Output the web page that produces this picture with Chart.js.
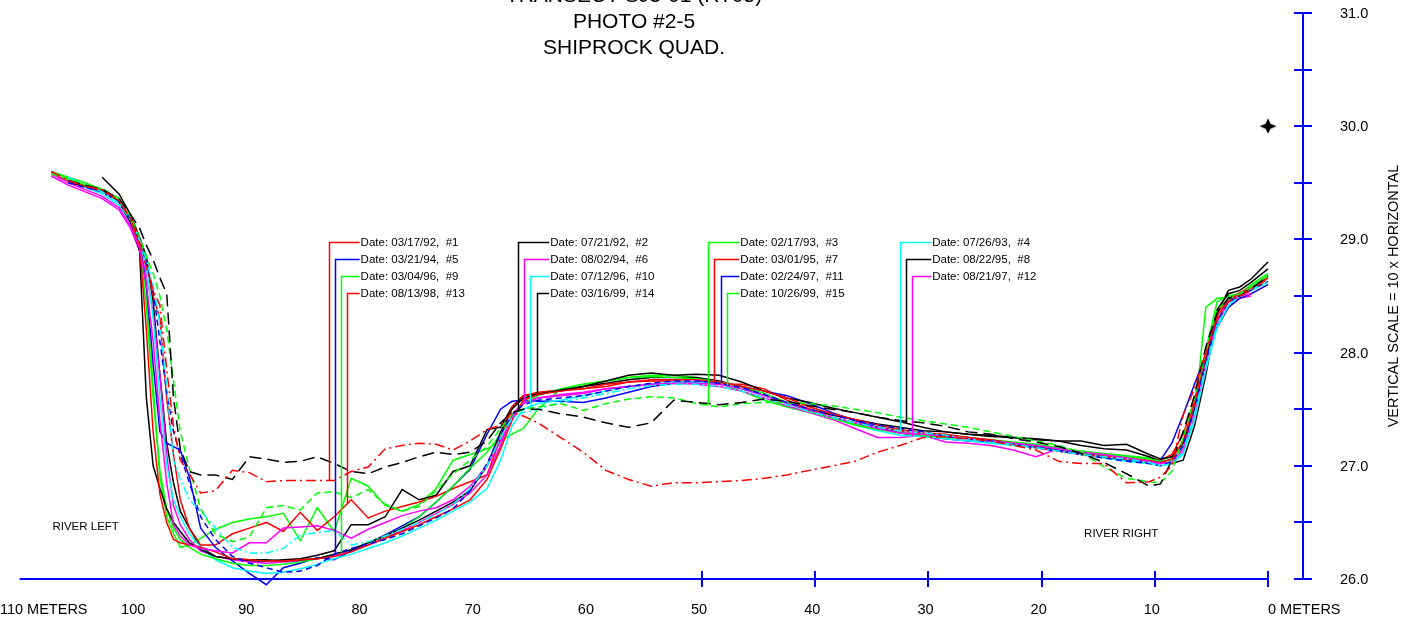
<!DOCTYPE html>
<html>
<head>
<meta charset="utf-8">
<title>Transect SJ3-01 - Photo #2-5</title>
<script src="https://cdn.jsdelivr.net/npm/chart.js@4.4.1/dist/chart.umd.min.js"></script>
<style>
    html, body { margin: 0; padding: 0; background: #ffffff; }
    #wrap { width: 1405px; height: 625px; }
</style>
</head>
<body>
<div id="wrap"><canvas id="transectChart" width="1405" height="625"></canvas></div>
<script>
// Survey stations, meters measured from the right bank
const stations = [
    107.5, 106, 104.5, 103, 101.5, 100.5, 99.7, 99.1, 98.5, 97.9,
    97.3, 96.7, 96.1, 95.3, 94.3, 93, 91.5, 90, 88.5, 87,
    85.5, 84, 82.5, 81, 79.5, 78, 76.5, 75, 73.5, 72,
    70.5, 69, 67.8, 66.8, 65.8, 64.5, 62.5, 60.5, 58.5, 56.5,
    54.5, 52.5, 50.5, 48.5, 46.5, 44.5, 42.5, 40.5, 38.5, 36.5,
    34.5, 32.5, 30.5, 28.5, 26.5, 24.5, 22.5, 20.5, 18.5, 16.5,
    14.5, 12.5, 10.5, 9.5, 8.5, 7.5, 6.5, 5.5, 4.5, 3.5,
    2.5, 1.5, 0
];

// Bed elevations (m) for each survey, one value per station
const elev01 = [
    29.60, 29.52, 29.47, 29.44, 29.34, 29.18, 28.98, 28.75, 28.55, 28.42,
    27.85, 27.35, 27.05, 26.93, 26.76, 26.78, 26.96, 26.94, 26.86, 26.87,
    26.87, 26.87, 26.87, 26.95, 26.99, 27.15, 27.18, 27.20, 27.19, 27.14,
    27.22, 27.32, 27.36, 27.47, 27.44, 27.38, 27.25, 27.12, 26.96, 26.88,
    26.82, 26.85, 26.85, 26.86, 26.87, 26.89, 26.92, 26.96, 27.00, 27.04,
    27.12, 27.18, 27.25, 27.26, 27.24, 27.22, 27.18, 27.14, 27.04, 27.02,
    27.02, 26.85, 26.86, 26.90, 27.00, 27.45, 27.68, 28.00, 28.30, 28.45,
    28.50, 28.55, 28.65
];
const elev02 = [
    null, 29.52, 29.48, 29.44, 29.36, 29.22, 29.10, 28.95, 28.82, 28.66,
    28.52, 27.60, 27.15, 26.95, 26.92, 26.92, 26.88, 27.08, 27.06, 27.03,
    27.04, 27.08, 27.02, 26.95, 26.93, 26.99, 27.03, 27.08, 27.12, 27.10,
    27.12, 27.22, 27.38, 27.47, 27.50, 27.50, 27.46, 27.43, 27.38, 27.34,
    27.38, 27.58, 27.56, 27.54, 27.56, 27.59, 27.57, 27.53, 27.50, 27.47,
    27.43, 27.40, 27.38, 27.35, 27.30, 27.28, 27.24, 27.21, 27.17, 27.11,
    27.03, 26.93, 26.82, 26.84, 27.05, 27.30, 27.62, 28.05, 28.35, 28.48,
    28.50, 28.56, 28.68
];
const elev03 = [
    29.58, 29.53, 29.48, 29.45, 29.36, 29.20, 29.02, 28.85, 28.70, 28.50,
    28.20, 27.75, 27.30, 26.98, 26.62, 26.40, 26.33, 26.37, 26.63, 26.65,
    26.61, 26.76, 26.77, 26.72, 26.79, 26.66, 26.60, 26.64, 26.78, 26.93,
    27.05, 27.17, 27.33, 27.45, 27.50, 27.52, 27.55, 27.49, 27.55, 27.59,
    27.61, 27.60, 27.55, 27.52, 27.55, 27.56, 27.56, 27.55, 27.53, 27.50,
    27.47, 27.43, 27.40, 27.37, 27.34, 27.30, 27.26, 27.22, 27.18, 27.12,
    26.99, 26.89, 26.86, 26.85, 26.95, 27.25, 27.60, 28.00, 28.38, 28.47,
    28.52, 28.58, 28.68
];
const elev04 = [
    null, 29.55, 29.48, 29.42, 29.32, 29.17, 29.00, 28.82, 28.60, 28.25,
    27.70, 27.05, 26.88, 26.70, 26.60, 26.45, 26.28, 26.23, 26.23, 26.27,
    26.39, 26.41, 26.43, 26.30, 26.33, 26.38, 26.44, 26.50, 26.57, 26.66,
    26.80, 27.00, 27.25, 27.42, 27.47, 27.50, 27.56, 27.60, 27.64, 27.68,
    27.71, 27.72, 27.72, 27.70, 27.66, 27.60, 27.54, 27.48, 27.43, 27.38,
    27.34, 27.31, 27.29, 27.27, 27.24, 27.21, 27.19, 27.16, 27.13, 27.10,
    27.08, 27.06, 27.03, 27.00, 27.02, 27.12, 27.45, 27.88, 28.25, 28.42,
    28.50, 28.55, 28.62
];
const elev05 = [
    null, 29.50, 29.46, 29.42, 29.33, 29.18, 29.00, 28.80, 28.55, 28.10,
    27.65, 27.30, 27.10, 26.85, 26.55, 26.35, 26.20, 26.14, 26.10, 26.06,
    26.07, 26.12, 26.22, 26.27, 26.31, 26.35, 26.40, 26.47, 26.54, 26.62,
    26.78, 27.02, 27.28, 27.45, 27.54, 27.58, 27.60, 27.62, 27.66, 27.70,
    27.73, 27.75, 27.75, 27.73, 27.69, 27.63, 27.56, 27.50, 27.45, 27.40,
    27.36, 27.33, 27.30, 27.26, 27.24, 27.22, 27.19, 27.16, 27.13, 27.10,
    27.07, 27.04, 27.02, 27.00, 27.04, 27.18, 27.50, 27.92, 28.28, 28.45,
    28.50, 28.55, 28.63
];
const elev06 = [
    29.58, 29.50, 29.44, 29.38, 29.28, 29.12, 28.92, 28.60, 28.10, 27.40,
    26.85, 26.48, 26.38, 26.30, 26.27, 26.25, 26.23, 26.32, 26.32, 26.45,
    26.46, 26.47, 26.43, 26.36, 26.44, 26.50, 26.56, 26.60, 26.63, 26.70,
    26.82, 27.00, 27.22, 27.42, 27.55, 27.60, 27.62, 27.64, 27.68, 27.70,
    27.72, 27.73, 27.73, 27.72, 27.68, 27.62, 27.55, 27.49, 27.43, 27.38,
    27.33, 27.29, 27.28, 27.26, 27.24, 27.22, 27.20, 27.18, 27.15, 27.12,
    27.10, 27.07, 27.04, 27.02, 27.03, 27.15, 27.48, 27.90, 28.28, 28.45,
    28.50, 28.52, null
];
const elev07 = [
    29.58, 29.52, 29.47, 29.43, 29.34, 29.18, 28.95, 28.20, 27.30, 26.75,
    26.50, 26.35, 26.32, 26.30, 26.28, 26.24, 26.18, 26.17, 26.16, 26.16,
    26.17, 26.18, 26.20, 26.24, 26.30, 26.36, 26.42, 26.48, 26.55, 26.62,
    26.70, 26.88, 27.15, 27.40, 27.58, 27.63, 27.66, 27.68, 27.72, 27.74,
    27.76, 27.76, 27.76, 27.74, 27.70, 27.66, 27.60, 27.52, 27.46, 27.41,
    27.36, 27.32, 27.29, 27.28, 27.25, 27.22, 27.19, 27.16, 27.13, 27.10,
    27.08, 27.06, 27.04, 27.03, 27.06, 27.22, 27.55, 27.98, 28.32, 28.46,
    28.52, 28.57, 28.66
];
const elev08 = [
    null, 29.50, 29.47, 29.43, 29.33, 29.15, 28.90, 27.60, 27.00, 26.80,
    26.62, 26.50, 26.42, 26.32, 26.26, 26.20, 26.18, 26.17, 26.17, 26.16,
    26.17, 26.18, 26.22, 26.26, 26.32, 26.38, 26.45, 26.52, 26.60, 26.68,
    26.78, 27.00, 27.30, 27.50, 27.60, 27.63, 27.67, 27.70, 27.75, 27.80,
    27.82, 27.80, 27.81, 27.80, 27.74, 27.66, 27.60, 27.56, 27.51, 27.47,
    27.43, 27.39, 27.34, 27.30, 27.28, 27.26, 27.25, 27.24, 27.22, 27.22,
    27.18, 27.19, 27.10, 27.06, 27.08, 27.20, 27.50, 27.92, 28.38, 28.52,
    28.55, 28.62, 28.74
];
const elev09 = [
    29.60, 29.54, 29.48, 29.44, 29.35, 29.18, 28.95, 28.40, 27.60, 26.95,
    26.62, 26.45, 26.35, 26.28, 26.22, 26.18, 26.14, 26.12, 26.12, 26.13,
    26.15, 26.18, 26.22, 26.26, 26.32, 26.38, 26.45, 26.55, 26.68, 26.82,
    26.98, 27.12, 27.28, 27.42, 27.55, 27.62, 27.68, 27.72, 27.75, 27.78,
    27.79, 27.78, 27.77, 27.74, 27.70, 27.64, 27.56, 27.48, 27.42, 27.36,
    27.32, 27.29, 27.27, 27.25, 27.24, 27.22, 27.20, 27.18, 27.15, 27.12,
    27.10, 27.08, 27.06, 27.04, 27.05, 27.15, 27.48, 28.02, 28.45, 28.50,
    28.52, 28.58, 28.68
];
const elev10 = [
    null, 29.52, 29.46, 29.40, 29.30, 29.15, 28.98, 28.75, 28.30, 27.60,
    27.00, 26.70, 26.55, 26.40, 26.28, 26.17, 26.10, 26.07, 26.05, 26.06,
    26.09, 26.13, 26.18, 26.22, 26.27, 26.32, 26.38, 26.45, 26.52, 26.60,
    26.68, 26.80, 27.05, 27.35, 27.50, 27.55, 27.58, 27.62, 27.66, 27.70,
    27.72, 27.74, 27.74, 27.72, 27.68, 27.62, 27.55, 27.48, 27.42, 27.36,
    27.31, 27.27, 27.26, 27.24, 27.22, 27.20, 27.18, 27.16, 27.13, 27.10,
    27.07, 27.04, 27.02, 27.00, 27.02, 27.10, 27.40, 27.85, 28.22, 28.42,
    28.50, 28.56, 28.62
];
const elev11 = [
    null, 29.52, 29.46, 29.42, 29.33, 29.18, 28.98, 28.60, 27.90, 27.30,
    27.20, 27.17, 27.14, 26.90, 26.45, 26.28, 26.16, 26.05, 25.95, 26.10,
    26.14, 26.19, 26.17, 26.25, 26.32, 26.39, 26.47, 26.55, 26.68, 26.82,
    26.97, 27.28, 27.50, 27.57, 27.58, 27.57, 27.57, 27.56, 27.60, 27.65,
    27.70, 27.73, 27.74, 27.74, 27.70, 27.66, 27.62, 27.55, 27.47, 27.40,
    27.34, 27.29, 27.26, 27.24, 27.22, 27.21, 27.19, 27.17, 27.14, 27.11,
    27.08, 27.05, 27.03, 27.05, 27.20, 27.45, 27.72, 27.98, 28.22, 28.40,
    28.48, 28.52, 28.60
];
const elev12 = [
    29.56, 29.48, 29.42, 29.36, 29.26, 29.10, 28.90, 28.70, 28.35, 27.80,
    27.10, 26.65, 26.48, 26.35, 26.25, 26.20, 26.17, 26.15, 26.14, 26.15,
    26.16, 26.18, 26.21, 26.25, 26.30, 26.36, 26.43, 26.50, 26.58, 26.66,
    26.76, 26.92, 27.18, 27.45, 27.56, 27.60, 27.63, 27.65, 27.68, 27.70,
    27.72, 27.73, 27.72, 27.70, 27.66, 27.60, 27.53, 27.47, 27.41, 27.33,
    27.25, 27.25, 27.27, 27.21, 27.20, 27.18, 27.14, 27.08, 27.15, 27.10,
    27.08, 27.06, 27.03, 27.02, 27.03, 27.12, 27.42, 27.85, 28.25, 28.45,
    28.48, 28.50, null
];
const elev13 = [
    null, 29.52, 29.47, 29.42, 29.34, 29.20, 29.00, 28.80, 28.50, 28.30,
    27.60, 27.10, 26.70, 26.45, 26.30, 26.30, 26.40, 26.45, 26.50, 26.42,
    26.59, 26.43, 26.55, 26.70, 26.54, 26.60, 26.64, 26.68, 26.73, 26.80,
    26.86, 26.92, 27.25, 27.52, 27.62, 27.65, 27.67, 27.68, 27.70, 27.74,
    27.75, 27.75, 27.74, 27.72, 27.72, 27.68, 27.58, 27.50, 27.43, 27.38,
    27.34, 27.31, 27.28, 27.27, 27.25, 27.23, 27.20, 27.17, 27.14, 27.11,
    27.09, 27.07, 27.05, 27.05, 27.10, 27.28, 27.58, 28.00, 28.35, 28.48,
    28.53, 28.58, 28.66
];
const elev14 = [
    null, null, null, 29.55, 29.40, 29.22, 29.02, 28.85, 28.45, 27.80,
    27.20, 26.85, 26.60, 26.45, 26.28, 26.20, 26.18, 26.16, 26.16, 26.17,
    26.18, 26.21, 26.25, 26.48, 26.48, 26.55, 26.79, 26.70, 26.74, 26.95,
    27.00, 27.32, 27.34, 27.52, 27.62, 27.64, 27.66, 27.70, 27.73, 27.76,
    27.78, 27.78, 27.78, 27.75, 27.70, 27.62, 27.56, 27.50, 27.45, 27.41,
    27.37, 27.34, 27.31, 27.30, 27.28, 27.27, 27.25, 27.23, 27.22, 27.18,
    27.15, 27.14, 27.08, 27.04, 27.02, 27.05, 27.35, 27.80, 28.35, 28.55,
    28.58, 28.65, 28.80
];
const elev15 = [
    29.60, 29.55, 29.50, 29.44, 29.35, 29.18, 28.96, 28.55, 27.70, 26.90,
    26.55, 26.40, 26.28, 26.30, 26.36, 26.44, 26.50, 26.53, 26.55, 26.58,
    26.34, 26.63, 26.42, 26.89, 26.82, 26.65, 26.60, 26.66, 26.80, 27.05,
    27.10, 27.15, 27.22, 27.28, 27.33, 27.50, 27.68, 27.72, 27.75, 27.78,
    27.80, 27.80, 27.78, 27.73, 27.66, 27.58, 27.52, 27.47, 27.42, 27.37,
    27.33, 27.29, 27.27, 27.26, 27.25, 27.23, 27.21, 27.19, 27.16, 27.13,
    27.11, 27.09, 27.07, 27.05, 27.08, 27.18, 27.42, 28.40, 28.48, 28.49,
    28.52, 28.60, 28.70
];

const surveyDates = [
    '03/17/92', '07/21/92', '02/17/93', '07/26/93', '03/21/94',
    '08/02/94', '03/01/95', '08/22/95', '03/04/96', '07/12/96',
    '02/24/97', '08/21/97', '08/13/98', '03/16/99', '10/26/99'
];
const surveyElevations = [
    elev01, elev02, elev03, elev04, elev05, elev06, elev07, elev08,
    elev09, elev10, elev11, elev12, elev13, elev14, elev15
];

// Reference mark on the right bank
const benchmark = [{ x: 0, y: 30.0 }];

// Axis ticks and labels
const distanceLabels = [110, 100, 90, 80, 70, 60, 50, 40, 30, 20, 10, 0];
const distanceTicks = [50, 40, 30, 20, 10, 0];
const elevationTicks = [26, 26.5, 27, 27.5, 28, 28.5, 29, 29.5, 30, 30.5, 31];
const elevationLabels = [26, 27, 28, 29, 30, 31];

// Line look for each survey
const surveyColors = [
    '#ff0000', '#000000', '#00ff00', '#00ffff', '#0000ff',
    '#ff00ff', '#ff0000', '#000000', '#00ff00', '#00ffff',
    '#0000ff', '#ff00ff', '#ff0000', '#000000', '#00ff00'
];
const surveyDashes = [
    [10, 4, 2, 4], [12, 6], [7, 4], [8, 3, 2, 3], [6, 4],
    [], [], [], [], [], [], [], [], [], []
];

// Date labels: leaders hang from each label down to its own profile
const legendGroups = [
    { at: 83.0, surveys: [1, 5, 9, 13] },
    { at: 66.25, surveys: [2, 6, 10, 14] },
    { at: 49.45, surveys: [3, 7, 11, 15] },
    { at: 32.5, surveys: [4, 8, 12] }
];
const labelRows = [28.98, 28.83, 28.68, 28.53];
const leaderStep = 0.54;
const labelOffset = 2.83;

const titleLines = ['TRANSECT SJ3-01 (RT05)', 'PHOTO #2-5', 'SHIPROCK QUAD.'];
const FONT = 'Arial, "Liberation Sans", sans-serif';
const AXIS_BLUE = '#0000ff';

// elevation of survey n at distance d, interpolated between stations
function elevationAt(n, d) {
    const values = surveyElevations[n - 1];
    for (let i = 0; i < stations.length - 1; i++) {
        const a = stations[i], b = stations[i + 1];
        if (d <= a && d >= b && values[i] != null && values[i + 1] != null) {
            const t = (a - d) / (a - b);
            return values[i] + t * (values[i + 1] - values[i]);
        }
    }
    return null;
}

function benchmarkGlyph() {
    const c = document.createElement('canvas');
    c.width = 20;
    c.height = 20;
    const g = c.getContext('2d');
    g.translate(10, 10);
    g.beginPath();
    g.moveTo(0, -8);
    g.lineTo(2.5, -2.5);
    g.lineTo(8.5, 0);
    g.lineTo(2.5, 2.5);
    g.lineTo(0, 7.5);
    g.lineTo(-2.5, 2.5);
    g.lineTo(-8.5, 0);
    g.lineTo(-2.5, -2.5);
    g.closePath();
    g.fillStyle = '#000000';
    g.fill();
    return c;
}

// Axes, titles and river labels
const transectFrame = {
    id: 'transectFrame',
    beforeDatasetsDraw(chart) {
        const { ctx, chartArea } = chart;
        const xs = chart.scales.x;
        const ys = chart.scales.y;
        const y0 = ys.getPixelForValue(26);
        const axisX = chartArea.right;
        ctx.save();
        ctx.strokeStyle = AXIS_BLUE;
        ctx.lineWidth = 2;

        // distance axis along the 26.0 datum
        ctx.beginPath();
        ctx.moveTo(xs.getPixelForValue(110.3), y0);
        ctx.lineTo(xs.getPixelForValue(0), y0);
        ctx.stroke();
        distanceTicks.forEach(d => {
            const px = Math.round(xs.getPixelForValue(d));
            ctx.beginPath();
            ctx.moveTo(px, y0 - 8);
            ctx.lineTo(px, y0 + 8);
            ctx.stroke();
        });

        // elevation axis on the right
        ctx.beginPath();
        ctx.moveTo(axisX, ys.getPixelForValue(31));
        ctx.lineTo(axisX, y0);
        ctx.stroke();
        elevationTicks.forEach(v => {
            const py = Math.round(ys.getPixelForValue(v));
            ctx.beginPath();
            ctx.moveTo(axisX - 9, py);
            ctx.lineTo(axisX + 9, py);
            ctx.stroke();
        });

        ctx.fillStyle = '#000000';
        ctx.textBaseline = 'middle';
        ctx.font = `14.5px ${FONT}`;
        ctx.textAlign = 'left';
        elevationLabels.forEach(v => {
            ctx.fillText(v.toFixed(1), axisX + 37, ys.getPixelForValue(v) + 1);
        });

        const labelY = y0 + 31;
        distanceLabels.forEach((d, i) => {
            const px = xs.getPixelForValue(d);
            if (i === 0) {
                ctx.textAlign = 'left';
                ctx.fillText(`${d} METERS`, px - 23, labelY);
            } else if (i === distanceLabels.length - 1) {
                ctx.textAlign = 'left';
                ctx.fillText(`${d} METERS`, px, labelY);
            } else {
                ctx.textAlign = 'center';
                ctx.fillText(String(d), px - 3, labelY);
            }
        });

        // rotated scale note
        ctx.save();
        ctx.translate(axisX + 91, (ys.getPixelForValue(26) + ys.getPixelForValue(31)) / 2);
        ctx.rotate(-Math.PI / 2);
        ctx.textAlign = 'center';
        ctx.fillText('VERTICAL SCALE = 10 x HORIZONTAL', 0, 0);
        ctx.restore();

        // title block
        const titleX = (chartArea.left + xs.getPixelForValue(0)) / 2;
        ctx.font = `21px ${FONT}`;
        ctx.textAlign = 'center';
        ctx.textBaseline = 'alphabetic';
        titleLines.forEach((line, i) => {
            ctx.fillText(line, titleX, 2 + i * 26);
        });

        ctx.font = `11.5px ${FONT}`;
        ctx.textAlign = 'left';
        ctx.textBaseline = 'middle';
        ctx.fillText('RIVER LEFT', xs.getPixelForValue(107.4), ys.getPixelForValue(26.46));
        ctx.fillText('RIVER RIGHT', xs.getPixelForValue(16.25), ys.getPixelForValue(26.40));
        ctx.restore();
    },

    afterDatasetsDraw(chart) {
        const { ctx } = chart;
        const xs = chart.scales.x;
        const ys = chart.scales.y;
        ctx.save();
        ctx.lineWidth = 1.5;
        ctx.font = `11.5px ${FONT}`;
        ctx.textAlign = 'left';
        ctx.textBaseline = 'middle';
        legendGroups.forEach(group => {
            const textX = xs.getPixelForValue(group.at - labelOffset);
            group.surveys.forEach((n, row) => {
                const d = group.at - row * leaderStep;
                const lx = Math.round(xs.getPixelForValue(d)) + 0.5;
                const rowY = Math.round(ys.getPixelForValue(labelRows[row])) + 0.5;
                const bottom = ys.getPixelForValue(elevationAt(n, d));
                ctx.strokeStyle = surveyColors[n - 1];
                ctx.beginPath();
                ctx.moveTo(textX - 1, rowY);
                ctx.lineTo(lx, rowY);
                ctx.lineTo(lx, bottom);
                ctx.stroke();
                ctx.fillStyle = '#000000';
                ctx.fillText(`Date: ${surveyDates[n - 1]},  #${n}`, textX, rowY);
            });
        });
        ctx.restore();
    }
};

const datasets = surveyElevations.map((values, i) => ({
    label: `#${i + 1}`,
    data: stations.map((d, j) => ({ x: d, y: values[j] })),
    borderColor: surveyColors[i],
    borderDash: surveyDashes[i],
    borderWidth: 1.5,
    pointRadius: 0,
    fill: false,
    tension: 0,
    spanGaps: false,
}));

datasets.push({
    label: 'benchmark',
    data: benchmark,
    showLine: false,
    pointStyle: benchmarkGlyph(),
    pointRadius: 8,
    borderWidth: 0,
});

new Chart(document.getElementById('transectChart'), {
    type: 'line',
    data: { datasets },
    options: {
        responsive: false,
        animation: false,
        layout: { autoPadding: false, padding: { left: 0, right: 102, top: 0, bottom: 0 } },
        scales: {
            x: { type: 'linear', reverse: true, min: -3.09, max: 112.03, display: false },
            y: { type: 'linear', min: 25.594, max: 31.115, display: false },
        },
        plugins: {
            legend: { display: false },
            tooltip: { enabled: false },
        },
    },
    plugins: [transectFrame],
});
</script>
</body>
</html>
